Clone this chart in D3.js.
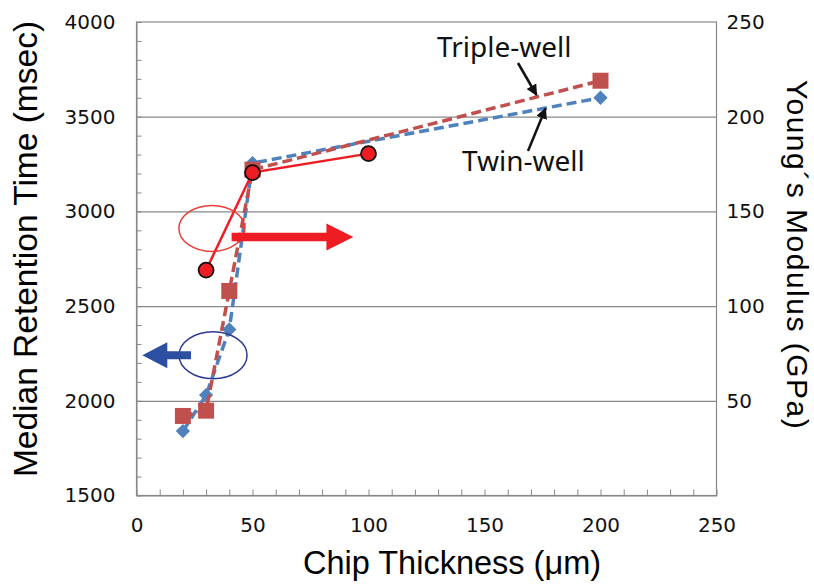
<!DOCTYPE html>
<html>
<head>
<meta charset="utf-8">
<script src="https://cdn.jsdelivr.net/npm/d3@7"></script>
<style>
  body { margin: 0; background: #fff; }
  svg { display: block; }
</style>
</head>
<body>
<div class="chart"></div>
<script>
// chip thickness (um) for the retention time series
var thickness = [20, 30, 40, 50, 200];
// median retention time (msec), left axis
var twinWell = [1840, 2030, 2377, 3255, 3600];
var tripleWell = [1920, 1948, 2580, 3220, 3690];
// young's modulus (GPa), right axis
var modThickness = [30, 50, 100];
var modulus = [119, 170.5, 180.5];

// tick labels
var xTicks = [0, 50, 100, 150, 200, 250];
var yLeftTicks = [1500, 2000, 2500, 3000, 3500, 4000];
var yRightTicks = [50, 100, 150, 200, 250];
var gridTicks = [2000, 2500, 3000, 3500];

var margin = { top: 22, right: 97.5, bottom: 89.5, left: 136.5 },
  width = 814 - margin.left - margin.right,
  height = 585 - margin.top - margin.bottom;

var grey = "#888888";
var tickFont = "DejaVu Sans, sans-serif";

var svg = d3.select(".chart").append("svg")
  .attr("width", 814)
  .attr("height", 585);

var g = svg.append("g")
  .attr("transform", `translate(${margin.left}, ${margin.top})`);

var xScale = d3.scaleLinear().domain([0, 250]).range([0, width]);
var yLeft = d3.scaleLinear().domain([1500, 4000]).range([height, 0]);
var yRight = d3.scaleLinear().domain([0, 250]).range([height, 0]);

// horizontal grid lines
var grid = g.append("g")
  .call(d3.axisLeft(yLeft).tickValues(gridTicks).tickSize(-width).tickFormat(""));
grid.select(".domain").remove();
grid.selectAll("line").attr("stroke", grey).attr("stroke-width", 1.2);

// plot frame
g.append("rect")
  .attr("width", width)
  .attr("height", height)
  .attr("fill", "none")
  .attr("stroke", grey)
  .attr("stroke-width", 1.2);

// minor ticks, pointing inside
var minorY = d3.range(1500, 4001, 100);
var minorX = d3.range(0, 251, 10);
var yMinor = g.append("g")
  .call(d3.axisLeft(yLeft).tickValues(minorY).tickSize(-5).tickSizeOuter(0).tickFormat(""));
yMinor.select(".domain").attr("stroke", grey);
yMinor.selectAll("line").attr("stroke", grey);

var xMinor = g.append("g")
  .attr("transform", `translate(0, ${height})`)
  .call(d3.axisBottom(xScale).tickValues(minorX).tickSize(-6).tickSizeOuter(0).tickFormat(""));
xMinor.select(".domain").attr("stroke", grey);
xMinor.selectAll("line").attr("stroke", grey);

// tick labels
var yLabels = g.append("g")
  .call(d3.axisLeft(yLeft).tickValues(yLeftTicks).tickSize(0).tickPadding(21).tickFormat(d3.format("d")));
yLabels.select(".domain").remove();
yLabels.selectAll("text").attr("font-family", tickFont).attr("font-size", 20).attr("fill", "#111");

var xLabels = g.append("g")
  .attr("transform", `translate(0, ${height})`)
  .call(d3.axisBottom(xScale).tickValues(xTicks).tickSize(0).tickPadding(22));
xLabels.select(".domain").remove();
xLabels.selectAll("text").attr("font-family", tickFont).attr("font-size", 20).attr("fill", "#111");

var rLabels = g.append("g")
  .attr("transform", `translate(${width}, 0)`)
  .call(d3.axisRight(yRight).tickValues(yRightTicks).tickSize(0).tickPadding(10));
rLabels.select(".domain").remove();
rLabels.selectAll("text").attr("font-family", tickFont).attr("font-size", 20).attr("fill", "#111");

// axis titles
svg.append("text")
  .attr("x", 452)
  .attr("y", 574)
  .attr("text-anchor", "middle")
  .attr("font-family", "Liberation Sans, Arial, sans-serif")
  .attr("font-size", 32.5)
  .text("Chip Thickness (\u03bcm)");

svg.append("text")
  .attr("transform", "translate(37, 249) rotate(-90)")
  .attr("text-anchor", "middle")
  .attr("font-family", "Liberation Sans, Arial, sans-serif")
  .attr("font-size", 33.5)
  .text("Median Retention Time (msec)");

svg.append("text")
  .attr("transform", "translate(787, 255) rotate(90)")
  .attr("text-anchor", "middle")
  .attr("font-family", "Liberation Sans, Arial, sans-serif")
  .attr("font-size", 30)
  .attr("letter-spacing", 1.5)
  .text("Young\u00b4s Modulus (GPa)");

// series
var twinData = thickness.map((t, i) => ({ x: t, y: twinWell[i] }));
var tripleData = thickness.map((t, i) => ({ x: t, y: tripleWell[i] }));
var modData = modThickness.map((t, i) => ({ x: t, y: modulus[i] }));

var lineL = d3.line().x(d => xScale(d.x)).y(d => yLeft(d.y));
var lineR = d3.line().x(d => xScale(d.x)).y(d => yRight(d.y));

var blue = "#4F81BD", darkRed = "#C0504D", red = "#EE1D23";

g.append("path")
  .datum(twinData)
  .attr("d", lineL)
  .attr("fill", "none")
  .attr("stroke", blue)
  .attr("stroke-width", 3.5)
  .attr("stroke-dasharray", "10,5");

g.selectAll(".diamond")
  .data(twinData)
  .enter().append("path")
  .attr("class", "diamond")
  .attr("transform", d => `translate(${xScale(d.x)}, ${yLeft(d.y)})`)
  .attr("d", d3.symbol(d3.symbolDiamond2, 130))
  .attr("fill", blue);

g.append("path")
  .datum(tripleData)
  .attr("d", lineL)
  .attr("fill", "none")
  .attr("stroke", darkRed)
  .attr("stroke-width", 3.5)
  .attr("stroke-dasharray", "10,5");

g.selectAll(".square")
  .data(tripleData)
  .enter().append("rect")
  .attr("class", "square")
  .attr("x", d => xScale(d.x) - 8)
  .attr("y", d => yLeft(d.y) - 8)
  .attr("width", 16)
  .attr("height", 16)
  .attr("fill", darkRed);

g.append("path")
  .datum(modData)
  .attr("d", lineR)
  .attr("fill", "none")
  .attr("stroke", red)
  .attr("stroke-width", 2.5);

g.selectAll(".dot")
  .data(modData)
  .enter().append("circle")
  .attr("class", "dot")
  .attr("cx", d => xScale(d.x))
  .attr("cy", d => yRight(d.y))
  .attr("r", 7.5)
  .attr("fill", red)
  .attr("stroke", "#111")
  .attr("stroke-width", 1.8);

// ellipses and axis arrows
g.append("ellipse")
  .attr("cx", xScale(32.5))
  .attr("cy", yRight(141))
  .attr("rx", 33)
  .attr("ry", 23)
  .attr("fill", "none")
  .attr("stroke", "#E8403B")
  .attr("stroke-width", 1.5);

g.append("ellipse")
  .attr("cx", xScale(33))
  .attr("cy", yLeft(2240))
  .attr("rx", 34)
  .attr("ry", 23.5)
  .attr("fill", "none")
  .attr("stroke", "#2E3A93")
  .attr("stroke-width", 1.5);

function blockArrow(x0, x1, yc, head, half, shaft) {
  var dir = x1 > x0 ? 1 : -1;
  var hb = x1 - dir * head;
  return `M${x0},${yc - shaft} L${hb},${yc - shaft} L${hb},${yc - half} L${x1},${yc} L${hb},${yc + half} L${hb},${yc + shaft} L${x0},${yc + shaft} Z`;
}

g.append("path")
  .attr("d", blockArrow(xScale(41), xScale(93.5), yRight(136.5), 27, 13.5, 4.2))
  .attr("fill", red);

g.append("path")
  .attr("d", blockArrow(xScale(23.5), xScale(2.5), yLeft(2240), 25, 13, 4))
  .attr("fill", "#2D4FA2");

// labels for the dashed series
svg.append("defs").append("marker")
  .attr("id", "head")
  .attr("viewBox", "0 0 10 10")
  .attr("refX", 9)
  .attr("refY", 5)
  .attr("markerWidth", 4.5)
  .attr("markerHeight", 4.5)
  .attr("orient", "auto")
  .append("path")
  .attr("d", "M0,0 L10,5 L0,10 Z")
  .attr("fill", "#111");

svg.append("text")
  .attr("x", 437)
  .attr("y", 57)
  .attr("font-family", "Noto Sans, sans-serif")
  .attr("font-size", 28)
  .attr("fill", "#111")
  .text("Triple-well");

svg.append("text")
  .attr("x", 462)
  .attr("y", 170.5)
  .attr("font-family", "Noto Sans, sans-serif")
  .attr("font-size", 28)
  .attr("fill", "#111")
  .text("Twin-well");

svg.append("line")
  .attr("x1", 518).attr("y1", 63)
  .attr("x2", 536.5).attr("y2", 95)
  .attr("stroke", "#111").attr("stroke-width", 2.5)
  .attr("marker-end", "url(#head)");

svg.append("line")
  .attr("x1", 528).attr("y1", 151)
  .attr("x2", 545.5).attr("y2", 108.5)
  .attr("stroke", "#111").attr("stroke-width", 2.5)
  .attr("marker-end", "url(#head)");
</script>
</body>
</html>
